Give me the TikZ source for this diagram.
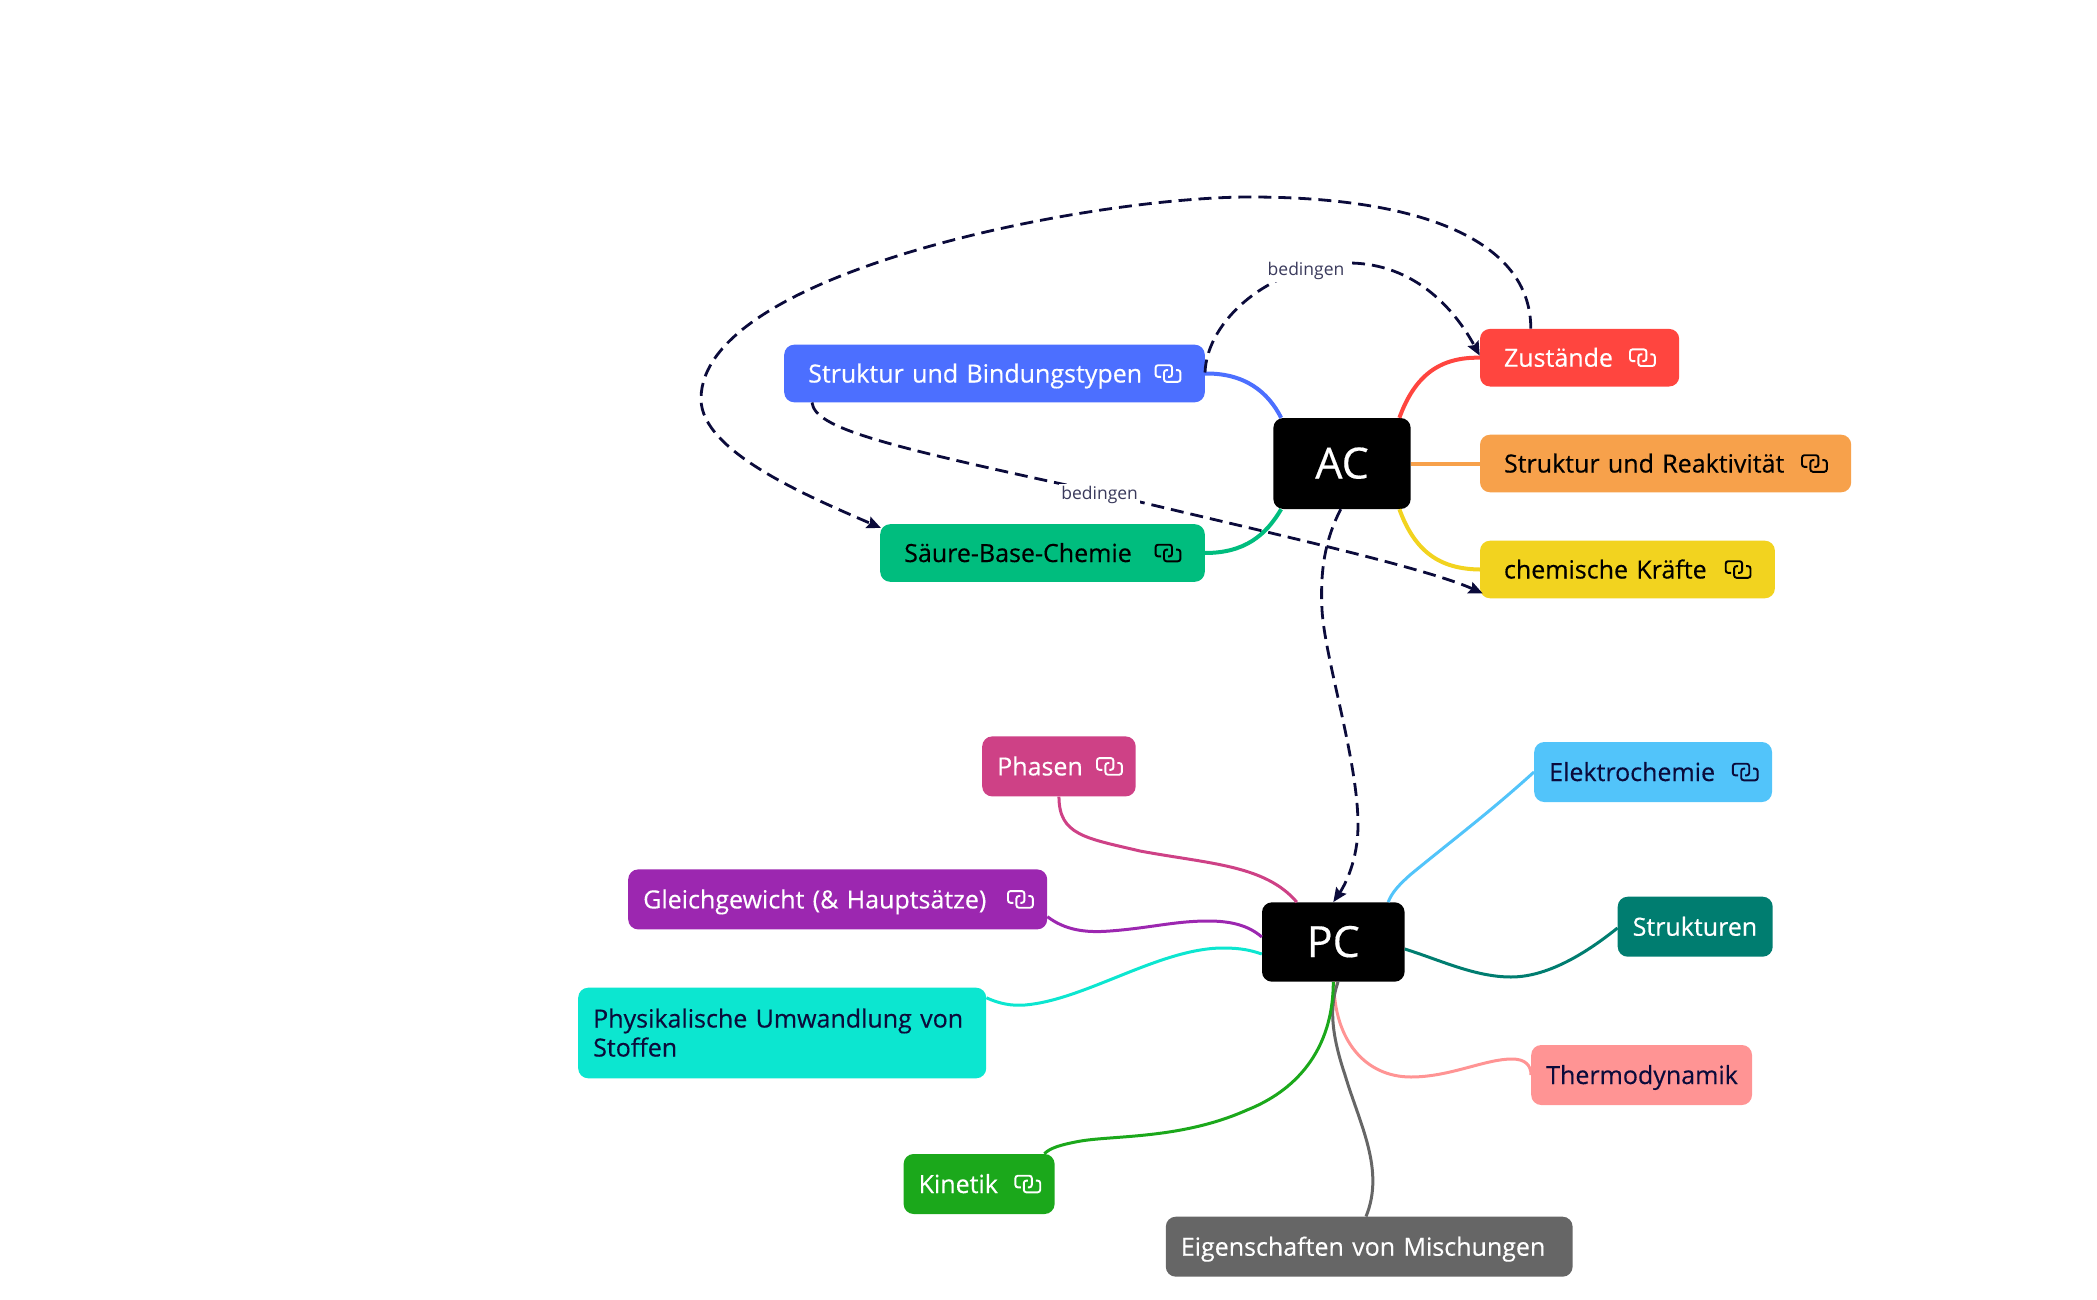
\documentclass[tikz,border=0pt]{standalone}
\usepackage{fontspec}
\setmainfont{Open Sans}[RawFeature={embolden=0.35}]
\newfontfamily\lblfont{Open Sans}
\usetikzlibrary{positioning,arrows.meta,calc}
\definecolor{navy}     {HTML}{0B0B3B}
\definecolor{labelink} {HTML}{3A3A5C}
\definecolor{cstruct}  {HTML}{4C6FFF}
\definecolor{csaeure}  {HTML}{00BD7E}
\definecolor{czustand} {HTML}{FF453F}
\definecolor{creakt}   {HTML}{F7A14B}
\definecolor{ckraefte} {HTML}{F2D31F}
\definecolor{cphasen}  {HTML}{CE4186}
\definecolor{cgleich}  {HTML}{9C27B0}
\definecolor{cumwand}  {HTML}{0CE6D0}
\definecolor{celektro} {HTML}{52C4FA}
\definecolor{cstrukt}  {HTML}{007D70}
\definecolor{cthermo}  {HTML}{FF9494}
\definecolor{ckinetik} {HTML}{1BA81B}
\definecolor{cmisch}   {HTML}{666666}
\tikzset{
  % --- nodes
  hub/.style    = {rounded corners=10pt, fill=black, text=white, align=center,
                   inner sep=0pt, text height=30pt, text depth=0pt, font=\fontsize{43}{46}\selectfont},
  topic/.style  = {rounded corners=10pt, anchor=west, align=left, inner ysep=0pt,
                   text height=18pt, text depth=0pt, font=\fontsize{25}{29}\selectfont},
  upper/.style  = {topic, inner xsep=24pt, minimum height=57.6pt},
  lower/.style  = {topic, inner xsep=15pt, minimum height=60pt},
  lbl/.style    = {fill=white, inner sep=2pt, text=labelink, font=\lblfont\fontsize{17.5}{20}\selectfont},
  % --- edges
  e/.style      = {line width=4pt},
  ethin/.style  = {line width=3pt},
  rel/.style    = {line width=2.8pt, draw=navy, dash pattern=on 13pt off 7pt,
                   -{Stealth[length=14pt,width=12pt,inset=2pt]}},
  % --- link icon
  linkicon/.pic = {
    \draw[line width=1.9pt, rounded corners=2.5pt, pic actions]
      (-7,3.4) -- (-12.4,3.4) -- (-12.4,-8.3) -- (4,-8.3) -- (4,3.4) -- (0,3.4);
    \draw[line width=1.9pt, rounded corners=2.5pt, pic actions]
      (0,-3.4) -- (-4,-3.4) -- (-4,8.3) -- (12.4,8.3) -- (12.4,-3.4) -- (8,-3.4);
  },
}
\begin{document}
\begin{tikzpicture}[x=1pt,y=-1pt]
  \useasboundingbox (0,0) rectangle (2097,1300);

  % AC group
  \node[hub, minimum width=137.3pt, minimum height=91pt] (ac) at (1342,463.5) {AC};
  \node[upper, fill=cstruct, text=white, text width=372.6pt] (struct) at (784,373.5) {Struktur und Bindungstypen};
  \node[upper, fill=csaeure, text=black, text width=276.6pt] (saeure) at (880,553) {Säure-Base-Chemie};
  \node[upper, fill=czustand, text=white, text width=151.2pt] (zustand) at (1479.8,357.7) {Zustände};
  \node[upper, fill=creakt, text=black, text width=323.2pt] (reakt) at (1479.8,463.5) {Struktur und Reaktivität};
  \node[upper, fill=ckraefte, text=black, text width=246.9pt] (kraefte) at (1479.8,569.5) {chemische Kräfte};

  % PC group
  \node[hub, minimum width=142.6pt, minimum height=79.4pt] (pc) at (1333.3,942) {PC};
  \node[lower, fill=cphasen, text=white, text width=123.5pt] (phasen) at (982,766.4) {Phasen};
  \node[lower, fill=cgleich, text=white, text width=389pt] (gleich) at (628,899.4) {Gleichgewicht (\& Hauptsätze)};
  \node[lower, fill=cumwand, text=navy, text width=378pt, minimum height=90.6pt, text depth=29pt] (umwand) at (578,1033) {Physikalische Umwandlung von\\Stoffen};
  \node[lower, fill=celektro, text=navy, text width=207.8pt] (elektro) at (1534,772) {Elektrochemie};
  \node[lower, fill=cstrukt, text=white, text width=125pt] (strukt) at (1617.5,926.7) {Strukturen};
  \node[lower, fill=cthermo, text=navy, text width=190.8pt] (thermo) at (1531,1075) {Thermodynamik};
  \node[lower, fill=ckinetik, text=white, text width=121pt] (kinetik) at (903.4,1184) {Kinetik};
  \node[lower, fill=cmisch, text=white, text width=376.8pt] (misch) at (1165.6,1246.7) {Eigenschaften von Mischungen};

  % icons
  \foreach \n/\off/\c in {struct/37/white, saeure/37/black, zustand/37/white, reakt/37/black,
                          kraefte/37/black, phasen/26.5/white, gleich/27/white,
                          elektro/27/navy, kinetik/27/white}
    \pic[draw=\c] at ([xshift=-\off pt]\n.east) {linkicon};

  % branches of AC
  \draw[e, cstruct] (struct.east) .. controls (1245,373) and (1268,392) .. ($(ac.north west)+(8,0)$);
  \draw[e, csaeure] (saeure.east) .. controls (1245,553) and (1266,535) .. ($(ac.south west)+(8,0)$);
  \draw[e, czustand] (zustand.west) .. controls (1440,357) and (1415,375) .. ($(ac.north east)+(-11.5,0)$);
  \draw[e, creakt] (ac.east) -- (reakt.west);
  \draw[e, ckraefte] (kraefte.west) .. controls (1440,569) and (1415,552) .. ($(ac.south east)+(-11.5,0)$);

  % branches of PC
  \draw[ethin, cphasen] (phasen.south) .. controls (1059,835) and (1085,838) .. (1140,851)
    .. controls (1210,864) and (1265,865) .. ($(pc.north west)+(35,0)$);
  \draw[ethin, cgleich] ($(gleich.north east)+(0,47.5)$) .. controls (1065,930) and (1085,933) .. (1110,931)
    .. controls (1150,928) and (1175,921) .. (1208,921) .. controls (1230,921) and (1248,925) .. ($(pc.west)+(0,-5)$);
  \draw[ethin, cumwand] ($(umwand.north east)+(0,10.3)$) .. controls (1000,1004) and (1012,1006) .. (1025,1005)
    .. controls (1085,1000) and (1160,948) .. (1223,948) .. controls (1240,948) and (1250,950) .. ($(pc.west)+(0,12)$);
  \draw[ethin, celektro] (elektro.west) .. controls (1490,812) and (1450,842) .. (1410,875)
    .. controls (1400,884) and (1392,892) .. ($(pc.north east)+(-16.6,0)$);
  \draw[ethin, cstrukt] ($(pc.east)+(0,7)$) .. controls (1440,960) and (1475,977) .. (1511,977)
    .. controls (1550,977) and (1590,950) .. ($(strukt.west)+(0,1.3)$);
  \draw[ethin, cthermo] ($(pc.south)+(0.5,0)$) .. controls (1334,1040) and (1365,1077) .. (1411,1077)
    .. controls (1450,1077) and (1485,1059) .. (1512,1059) .. controls (1525,1059) and (1531,1065) .. (thermo.west);
  \draw[ethin, cmisch] ($(pc.south)+(4.7,0)$) .. controls (1330,1005) and (1330,1030) .. (1345,1075)
    .. controls (1360,1125) and (1385,1170) .. (misch.north -| 1366,0);
  \draw[ethin, ckinetik] (pc.south) .. controls (1333,1060) and (1285,1095) .. (1247,1110)
    .. controls (1180,1140) and (1110,1135) .. (1077,1141.7) .. controls (1060,1145) and (1050,1148) .. ($(kinetik.north east)+(-10.5,0)$);

  % relations
  \draw[rel] ($(zustand.north west)+(51,0)$) .. controls (1531,240) and (1420,197) .. (1250,197)
    .. controls (1090,197) and (701,272) .. (701,399) .. controls (701,452) and (810,497) .. ($(saeure.north west)+(1,4)$);
  \draw[rel] ($(struct.east)+(0,-1)$) .. controls (1207,320) and (1270,265) .. (1348,263)
    .. controls (1415,263) and (1455,310) .. ($(zustand.west)+(0,-2)$);
  \draw[rel] ($(struct.south west)+(28,0)$) .. controls (815,428) and (880,445) .. (1099,492)
    .. controls (1220,522) and (1420,565) .. ($(kraefte.south west)+(3,-5)$);
  \draw[rel] ($(ac.south)+(-1.3,0)$) .. controls (1325,540) and (1320,570) .. (1322,610)
    .. controls (1325,660) and (1358,760) .. (1358,825) .. controls (1358,860) and (1345,885) .. (pc.north);

  \node[lbl] (lblzust) at (1306,271) {bedingen};
  \node[lbl] (lblkraft) at (1099.6,494.5) {bedingen};
\end{tikzpicture}
\end{document}
